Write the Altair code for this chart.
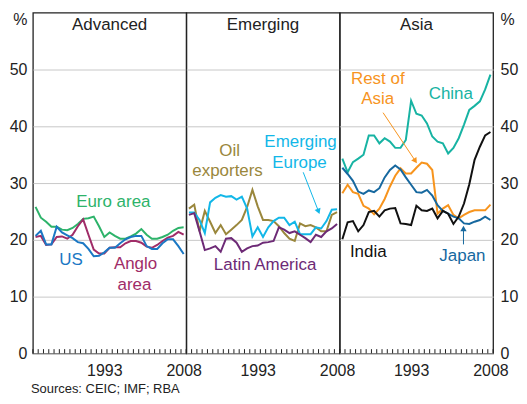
import altair as alt
import pandas as pd

FONT = "Liberation Sans"
TXT = "#222222"

years = list(range(1980, 2009))
tick_years = list(range(1980, 2010))

# Advanced
euro_area = [25.8, 23.9, 23.2, 22.3, 22.3, 21.8, 21.7, 22.1, 22.8, 23.7, 23.8, 24.1, 22.4, 20.5, 21.3,
             20.7, 20.2, 20.2, 20.6, 21.1, 21.9, 20.9, 20.2, 20.2, 20.5, 20.9, 21.6, 22.1, 22.2]
us = [20.7, 21.6, 19.2, 19.2, 22.3, 21.3, 20.8, 20.3, 19.6, 19.4, 18.4, 17.1, 17.2, 17.8, 18.6,
      18.6, 19.4, 20.1, 20.5, 20.7, 20.7, 18.9, 18.4, 18.4, 19.4, 20.1, 20.1, 18.9, 17.5]
anglo_area = [20.5, 20.7, 19.1, 19.2, 20.5, 20.6, 20.2, 20.9, 22.4, 23.6, 20.9, 18.3, 17.6, 17.6, 18.6,
              18.7, 18.7, 19.4, 19.8, 19.8, 19.5, 18.8, 18.6, 19.1, 19.8, 20.4, 20.7, 21.4, 20.9]
# Emerging
emerging_europe = [24.8, 24.8, 23.5, 21.2, 26.6, 27.4, 27.9, 27.6, 27.7, 27.1, 27.6, 25.5, 20.6, 22.2, 20.5,
                   22.2, 23.3, 23.9, 23.9, 22.6, 23.2, 21.0, 21.0, 21.0, 22.2, 22.0, 23.3, 25.3, 25.4]
oil_exporters = [25.5, 26.2, 21.5, 25.1, 23.2, 21.2, 22.6, 21.0, 21.8, 22.6, 23.5, 25.8, 28.8, 25.9, 23.5,
                 23.5, 23.3, 22.4, 21.2, 20.2, 19.8, 22.9, 22.4, 22.6, 22.2, 21.5, 21.5, 24.4, 24.9]
latin_america = [24.4, 24.7, 21.5, 18.2, 18.5, 18.9, 17.9, 20.2, 20.3, 19.5, 17.9, 18.5, 18.9, 19.0, 19.5,
                 19.6, 19.8, 22.2, 21.8, 21.2, 21.5, 20.9, 20.3, 19.6, 20.9, 20.5, 21.5, 22.0, 22.8]
# Asia
china = [34.3, 31.9, 33.7, 34.3, 35.0, 38.4, 38.4, 37.0, 37.9, 37.3, 36.2, 36.2, 37.6, 44.5, 42.2,
         41.9, 40.5, 38.2, 37.3, 37.0, 35.2, 36.2, 37.9, 40.3, 42.9, 43.6, 44.4, 46.5, 49.1]
rest_of_asia = [28.2, 29.7, 28.4, 28.1, 26.0, 25.5, 24.5, 25.5, 27.2, 29.4, 31.3, 32.6, 31.7, 31.7, 32.7,
                33.6, 33.4, 32.3, 24.6, 25.5, 26.1, 24.4, 23.8, 24.4, 24.9, 25.2, 25.2, 25.2, 26.2]
japan = [32.7, 31.6, 30.4, 28.5, 28.1, 28.7, 28.4, 29.1, 31.0, 32.3, 33.1, 32.4, 31.0, 29.7, 28.4,
         28.3, 28.8, 27.8, 26.1, 25.1, 24.6, 24.1, 23.8, 22.9, 22.8, 23.2, 23.5, 24.1, 23.5]
india = [20.1, 23.1, 23.3, 21.5, 22.6, 24.9, 25.1, 24.1, 25.2, 25.5, 25.6, 22.9, 22.8, 22.6, 26.0,
         25.2, 25.1, 25.5, 23.8, 25.1, 24.6, 22.8, 24.1, 26.4, 29.8, 34.1, 36.4, 38.4, 39.0]

series_names = ["Euro area", "US", "Anglo area", "Emerging Europe", "Oil exporters", "Latin America",
                "China", "Rest of Asia", "Japan", "India"]
series_colors = ["#2db36a", "#1b78c4", "#a02c68", "#12b7e8", "#9a873c", "#6d2a76",
                 "#17b3a3", "#f7941d", "#16689f", "#111111"]
color_of = dict(zip(series_names, series_colors))

W, H = 154, 342
xscale = alt.Scale(domain=[1980, 2009], nice=False, zero=False)
yscale = alt.Scale(domain=[0, 60], nice=False)
color_scale = alt.Scale(domain=series_names, range=series_colors)

x_ax = alt.Axis(values=[1993.5, 2008.5], labelExpr="floor(datum.value)", title=None, grid=False,
                ticks=False, domain=False, labelFlush=False, labelOverlap=False, labelPadding=9,
                labelFontSize=16, labelColor=TXT, labelFont=FONT)
common_y = dict(values=[0, 10, 20, 30, 40, 50], grid=True, gridColor="#c8c8c8", gridWidth=1,
                ticks=False, domain=False, labelFontSize=16, labelColor=TXT, labelFont=FONT,
                titleFontSize=16, titleFont=FONT, titleColor=TXT,
                titleFontWeight="normal", titleAngle=0, titleBaseline="middle", titleY=7)
y_left = alt.Axis(orient="left", title="%", titleAlign="right", titleX=-6, labelPadding=6, **common_y)
y_right = alt.Axis(orient="right", title="%", titleAlign="left", titleX=7, labelPadding=7, **common_y)
y_none = alt.Axis(values=[0, 10, 20, 30, 40, 50], grid=True, gridColor="#c8c8c8", gridWidth=1,
                  ticks=False, domain=False, labels=False, title=None)


def panel(title, series, labels, arrows, y_axis, extra=None):
    rows = []
    for name, vals in series:
        for yr, v in zip(years, vals):
            rows.append({"year": yr, "value": v, "series": name})
    df = pd.DataFrame(rows)
    X = lambda f: alt.X(f, scale=xscale, axis=x_ax)
    Y = lambda f: alt.Y(f, scale=yscale, axis=y_axis)

    lines = alt.Chart(df).transform_calculate(xm="datum.year + 0.5").mark_line(strokeWidth=2).encode(
        x=X("xm:Q"), y=Y("value:Q"),
        color=alt.Color("series:N", scale=color_scale, legend=None),
        order=alt.Order("year:Q"))

    ticks = alt.Chart(pd.DataFrame({"year": tick_years})).mark_rule(color=TXT, strokeWidth=1).encode(
        x=X("year:Q"), y=Y("y0:Q"), y2="y1:Q").transform_calculate(y0="0", y1="0.75")

    ttl = alt.Chart(pd.DataFrame({"t": [title]})).mark_text(
        fontSize=17, font=FONT, color=TXT, baseline="middle", align="center").encode(
        x=alt.value(W / 2), y=alt.value(12), text="t:N")

    lab_df = pd.DataFrame(labels, columns=["text", "lx", "ly", "series"])
    lab_df["col"] = lab_df["series"].map(color_of)
    labs = alt.Chart(lab_df).mark_text(fontSize=17, font=FONT, baseline="middle", align="center").encode(
        x=X("lx:Q"), y=Y("ly:Q"), text="text:N", color=alt.Color("col:N", scale=None))

    layers = [lines, ticks, ttl, labs]
    if arrows:
        ar_df = pd.DataFrame(arrows, columns=["x1", "y1", "x2", "y2", "ang", "series"])
        ar_df["col"] = ar_df["series"].map(color_of)
        shaft = alt.Chart(ar_df).mark_rule(strokeWidth=1).encode(
            x=X("x1:Q"), y=Y("y1:Q"), x2="x2:Q", y2="y2:Q", color=alt.Color("col:N", scale=None))
        head = alt.Chart(ar_df).mark_point(shape="triangle-up", filled=True, size=40, opacity=1).encode(
            x=X("x2:Q"), y=Y("y2:Q"), angle=alt.Angle("ang:Q", scale=None),
            color=alt.Color("col:N", scale=None))
        layers += [shaft, head]
    if extra is not None:
        layers.append(extra)
    return alt.layer(*layers).properties(width=W, height=H)


sources = alt.Chart(pd.DataFrame({"t": ["Sources: CEIC; IMF; RBA"]})).mark_text(
    fontSize=13, font=FONT, color=TXT, align="left", baseline="middle").encode(
    x=alt.value(-2), y=alt.value(H + 36), text="t:N")

p1 = panel("Advanced",
           [("Euro area", euro_area), ("Anglo area", anglo_area), ("US", us)],
           [("Euro area", 1995.2, 26.7, "Euro area"), ("US", 1987.2, 16.4, "US"),
            ("Anglo", 1999.4, 15.7, "Anglo area"), ("area", 1999.2, 12.1, "Anglo area")],
           [], y_left, extra=sources)
p2 = panel("Emerging",
           [("Oil exporters", oil_exporters), ("Emerging Europe", emerging_europe),
            ("Latin America", latin_america)],
           [("Oil", 1988.2, 35.7, "Oil exporters"), ("exporters", 1987.8, 32.1, "Oil exporters"),
            ("Emerging", 2001.6, 37.2, "Emerging Europe"), ("Europe", 2001.4, 33.6, "Emerging Europe"),
            ("Latin America", 1994.9, 15.5, "Latin America")],
           [(2002.1, 31.9, 2005.0, 25.0, 159, "Emerging Europe")], y_none)
p3 = panel("Asia",
           [("China", china), ("Rest of Asia", rest_of_asia), ("Japan", japan), ("India", india)],
           [("Rest of", 1987.2, 48.3, "Rest of Asia"), ("Asia", 1987.2, 44.8, "Rest of Asia"),
            ("China", 2001.0, 45.7, "China"), ("India", 1985.4, 17.8, "India"),
            ("Japan", 2003.2, 17.2, "Japan")],
           [(1988.2, 42.4, 1994.3, 33.9, 146, "Rest of Asia"),
            (2003.4, 19.2, 2003.4, 22.0, 0, "Japan")], y_right)

chart = alt.hconcat(p1, p2, p3, spacing=0, bounds="flush").properties(
    padding={"left": 0, "top": 2, "right": 0, "bottom": 0}
).configure(font=FONT).configure_view(stroke="#222222", strokeWidth=1.3)

chart.save("out.html", embed_options={"renderer": "svg", "actions": False})
